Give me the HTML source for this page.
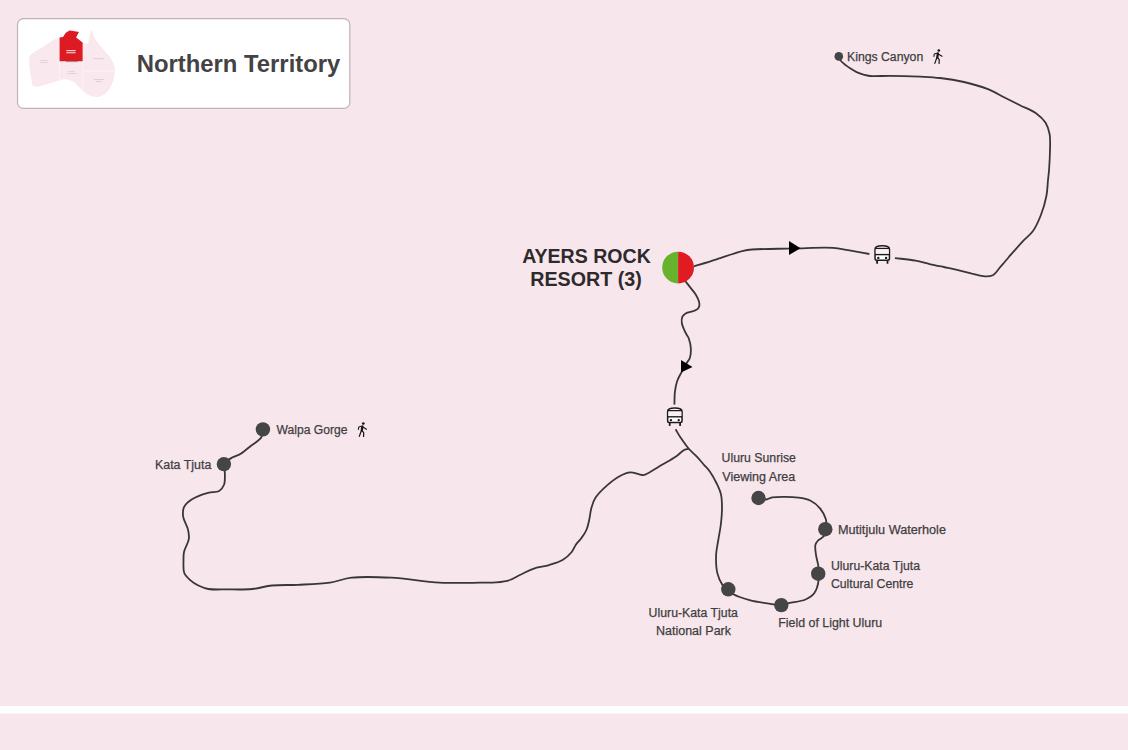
<!DOCTYPE html>
<html><head><meta charset="utf-8"><style>
html,body{margin:0;padding:0;}
body{width:1128px;height:750px;background:#f7e7ec;overflow:hidden;position:relative;}
svg{position:absolute;left:0;top:0;}
</style></head><body>
<svg width="1128" height="750" viewBox="0 0 1128 750">
<rect x="0" y="706" width="1128" height="7.5" fill="#ffffff"/>
<rect x="17.5" y="18.6" width="332.3" height="89.8" rx="6" ry="6" fill="#ffffff" stroke="#bdb5b9" stroke-width="1.2"/>
<defs><filter id="bl" x="-5%" y="-5%" width="110%" height="110%"><feGaussianBlur stdDeviation="0.35"/></filter></defs><g filter="url(#bl)">
  <path d="M59.3 37.5 C60.5 37.3 62.0 37.6 63.0 37.0 C64.2 36.2 64.7 33.9 65.8 32.8 C66.9 31.8 68.0 30.8 69.6 30.5 C72.0 30.0 78.1 30.4 78.9 31.9 C79.5 33.1 75.7 35.8 76.1 37.5 C76.5 39.4 80.8 41.7 82.6 42.6 C83.7 43.2 84.6 43.5 85.5 43.5 C86.4 43.5 87.4 43.6 88.0 43.0 C89.1 42.0 88.9 38.2 89.5 36.0 C90.1 33.9 90.8 30.0 91.5 30.0 C92.1 30.0 92.8 33.3 93.5 35.0 C94.3 36.7 94.8 38.2 96.0 40.0 C97.7 42.6 100.6 46.1 103.0 49.0 C105.3 51.8 108.1 54.0 110.0 57.0 C111.9 60.0 113.8 63.6 114.5 67.0 C115.1 70.3 114.8 73.7 114.2 77.0 C113.5 80.4 112.1 84.1 110.5 87.0 C109.0 89.7 107.3 92.3 105.0 94.0 C102.8 95.6 99.7 96.8 97.0 97.0 C94.4 97.2 91.5 96.3 89.2 95.3 C87.1 94.4 85.4 93.1 83.6 91.6 C81.6 90.0 79.7 87.7 78.0 86.0 C76.6 84.6 75.8 83.2 74.2 82.2 C72.2 80.9 69.3 79.7 66.8 79.4 C64.3 79.1 61.9 79.8 59.3 80.4 C56.3 81.0 53.1 82.3 50.0 83.2 C46.9 84.1 43.7 85.6 40.7 86.0 C38.1 86.4 34.8 87.2 33.2 86.0 C31.6 84.8 31.9 81.3 31.3 78.5 C30.6 75.2 29.7 71.0 29.5 67.3 C29.3 63.6 28.6 58.8 29.9 56.1 C30.9 53.9 33.0 53.0 35.1 51.5 C37.7 49.6 41.4 47.8 44.4 45.9 C47.3 44.1 50.1 41.8 52.8 40.3 C55.0 39.1 57.1 38.4 59.3 37.5 Z" fill="#f9e9ee"/>
  <path d="M59.6 61.3 V80 M59.6 61.3 H82.6 V91 M82.6 71 H114.5" stroke="#fdf6f8" stroke-width="0.6" fill="none"/>
  <path d="M59.6 37.5 L63.0 37.0 L65.8 32.8 L69.6 30.5 L78.9 31.9 L76.1 37.5 L82.6 42.6 L82.6 61.3 L59.6 61.3 Z" fill="#dc1a22"/>
  <rect x="66.3" y="50" width="9.3" height="1.2" fill="#f8d0d2"/>
  <rect x="66.3" y="52.2" width="9.3" height="1.1" fill="#f8d0d2"/>
  <rect x="65.8" y="61.2" width="12" height="0.9" fill="#9a7a80"/>
  <g fill="#dccbd0"><rect x="40.2" y="60.2" width="7.5" height="0.8"/><rect x="40.2" y="62" width="7.5" height="0.8"/>
  <rect x="68.5" y="71.2" width="6" height="0.8"/><rect x="67.2" y="73" width="9.4" height="0.8"/>
  <rect x="93.3" y="58.3" width="10.7" height="0.9"/>
  <rect x="94" y="79" width="10" height="0.9"/><rect x="96" y="81.2" width="6" height="0.9"/></g>
</g>
<text x="136.8" y="71.6" textLength="203.5" lengthAdjust="spacingAndGlyphs" font-family="'Liberation Sans', sans-serif" font-weight="bold" font-size="23.5" fill="#444244">Northern Territory</text>
<g fill="none" stroke="#3a3638" stroke-width="1.8" stroke-linecap="butt" stroke-linejoin="round"><path d="M694.0 266.3 C701.5 264.0 708.8 261.8 716.6 259.3 C725.1 256.6 736.7 252.3 743.2 250.8 C746.9 249.9 748.1 249.8 752.0 249.5 C759.9 248.8 778.7 248.8 787.5 248.6 C792.7 248.5 794.8 248.4 800.0 248.3 C808.4 248.1 824.4 247.3 833.2 247.9 C839.1 248.3 842.6 249.3 848.0 250.2 C854.5 251.3 862.3 252.7 869.4 254.0"/><path d="M894.9 258.1 C901.8 258.9 909.3 259.5 915.5 260.6 C920.7 261.6 924.9 263.0 929.6 264.1 C934.3 265.2 939.2 266.1 943.8 267.0 C948.0 267.9 951.7 268.6 956.0 269.6 C961.0 270.8 967.0 272.4 972.0 273.6 C976.5 274.6 981.0 276.2 984.8 276.3 C987.8 276.4 990.3 276.5 992.8 275.2 C995.8 273.6 998.0 269.5 1000.8 266.4 C1003.9 262.9 1007.0 259.2 1010.4 255.2 C1014.3 250.7 1019.2 245.1 1023.2 240.8 C1026.6 237.2 1030.0 235.1 1032.8 231.2 C1036.0 226.8 1038.6 220.9 1040.8 215.2 C1043.2 209.2 1045.2 202.2 1046.4 196.0 C1047.5 190.5 1047.5 184.8 1048.0 180.0 C1048.4 176.0 1048.8 173.3 1049.1 169.2 C1049.5 163.7 1049.9 156.1 1050.0 150.0 C1050.1 144.4 1050.5 138.8 1049.6 134.0 C1048.8 129.9 1047.7 126.2 1045.6 122.8 C1043.3 119.2 1039.9 116.0 1036.0 113.2 C1031.6 110.0 1025.3 107.9 1020.0 105.2 C1014.7 102.5 1009.3 99.9 1004.0 97.2 C998.7 94.5 994.0 91.6 988.0 89.2 C980.9 86.4 972.1 83.9 964.0 82.0 C956.1 80.2 947.6 78.9 940.0 78.0 C933.2 77.2 927.7 77.0 920.4 76.6 C911.4 76.2 898.7 75.8 890.0 75.8 C883.4 75.8 876.7 76.3 872.6 76.1 C870.3 76.0 869.0 75.8 867.2 75.5 C865.4 75.2 863.6 74.8 861.9 74.2 C860.1 73.6 858.3 72.9 856.6 72.1 C854.8 71.2 853.0 70.2 851.3 69.1 C849.5 68.0 847.7 66.8 846.0 65.4 C844.2 64.0 841.8 62.3 840.6 60.6 C839.6 59.3 839.4 57.8 838.8 56.4"/><path d="M685.2 281.0 C687.2 283.5 689.3 286.2 691.2 288.6 C692.9 290.8 694.7 292.8 696.0 295.0 C697.2 297.1 698.5 299.5 699.0 301.5 C699.4 303.1 699.6 304.7 699.3 306.0 C699.0 307.2 698.4 308.4 697.5 309.2 C696.5 310.1 695.2 310.4 693.6 311.0 C691.4 311.8 687.6 312.2 685.6 313.4 C684.2 314.3 683.1 315.2 682.4 316.6 C681.6 318.3 681.5 320.9 681.8 323.0 C682.1 325.2 683.1 327.4 684.0 329.4 C684.8 331.4 685.9 333.4 686.8 335.0 C687.5 336.3 688.2 337.0 688.8 338.5 C689.7 341.0 690.8 345.8 690.9 349.2 C691.0 352.2 690.7 355.3 689.9 357.7 C689.2 359.8 687.9 361.0 686.7 363.0 C685.1 365.7 682.9 369.5 681.3 372.6 C679.8 375.5 678.2 378.1 677.1 381.2 C676.0 384.5 675.4 388.1 674.9 391.8 C674.4 395.8 674.6 400.3 674.4 404.6"/><path d="M675.6 429.3 C677.3 432.1 678.7 434.8 680.7 437.7 C683.0 441.1 685.8 445.3 688.6 448.5 C691.1 451.5 694.0 453.7 696.6 456.4 C699.2 459.1 701.7 462.2 704.0 464.8 C706.1 467.2 707.9 468.8 709.8 471.5 C712.2 474.8 714.8 479.6 716.7 483.5 C718.4 487.1 720.0 490.3 720.9 494.1 C721.9 498.4 722.0 503.2 722.0 508.0 C722.0 513.1 721.5 518.7 720.9 524.0 C720.3 529.3 719.1 534.8 718.3 540.0 C717.5 545.0 716.3 549.6 716.1 554.8 C715.9 560.6 716.1 568.1 717.4 573.4 C718.5 577.7 720.2 581.8 722.3 584.6 C724.0 586.8 726.4 587.7 728.3 589.3 C730.1 590.9 731.1 592.8 733.5 594.3 C737.2 596.6 743.6 598.5 749.6 600.1 C756.9 602.1 768.8 603.7 774.5 604.5 C777.5 604.9 779.0 605.3 781.3 605.1 C783.7 604.9 785.7 603.9 788.7 603.2 C793.2 602.1 801.0 601.5 805.5 599.5 C809.1 597.9 812.1 596.2 814.2 593.3 C816.6 590.1 818.0 584.5 818.5 580.9 C818.9 578.2 818.2 576.0 818.2 573.7 C818.2 571.5 818.7 569.7 818.5 567.2 C818.2 563.7 816.5 558.7 816.0 554.8 C815.5 551.3 814.8 547.5 815.4 544.9 C815.8 543.1 816.8 541.9 818.0 540.5 C819.5 538.9 822.7 538.0 823.9 536.1 C825.1 534.2 824.9 531.5 825.3 529.2 C825.7 527.1 826.3 524.8 826.3 522.9 C826.3 521.4 826.3 520.6 825.8 519.0 C824.9 516.2 822.6 511.4 820.0 508.3 C817.4 505.2 813.8 502.3 810.2 500.5 C806.6 498.7 803.2 498.2 798.5 497.6 C791.5 496.7 777.8 496.5 772.2 497.4 C769.5 497.9 768.4 499.3 766.3 499.5 C763.9 499.7 761.1 498.5 758.5 498.0"/><path d="M688.6 449.0 C687.2 449.3 685.9 449.2 684.4 449.9 C682.0 451.0 679.2 454.2 676.0 456.4 C672.0 459.1 666.7 462.0 662.0 464.8 C657.3 467.6 651.5 471.5 648.0 473.2 C646.1 474.2 644.9 474.9 643.3 475.1 C641.8 475.2 640.5 474.6 638.7 474.2 C636.3 473.7 633.2 472.1 630.3 472.3 C627.0 472.5 623.5 474.1 620.0 476.0 C615.7 478.3 610.9 482.0 606.8 485.6 C602.7 489.2 598.2 493.6 595.6 497.6 C593.5 500.8 592.6 503.7 591.6 507.2 C590.4 511.1 590.1 516.0 589.2 520.0 C588.4 523.6 587.8 526.9 586.4 530.0 C585.1 533.1 583.0 535.9 581.1 538.5 C579.4 540.9 577.3 542.6 575.7 544.9 C574.1 547.2 573.4 550.0 571.5 552.3 C569.3 555.0 566.4 557.7 563.0 559.8 C559.1 562.2 553.9 563.6 549.1 565.1 C544.0 566.6 538.1 567.1 533.2 568.8 C528.6 570.4 524.5 572.8 520.4 574.7 C516.7 576.5 513.7 578.7 509.8 580.0 C505.6 581.4 500.8 581.9 496.0 582.4 C490.9 582.9 486.6 582.6 480.0 582.7 C469.6 582.8 453.6 583.3 439.5 582.6 C424.1 581.8 406.6 578.5 391.3 577.7 C377.4 577.0 362.8 576.4 351.6 577.7 C343.3 578.6 338.0 581.4 330.0 582.6 C320.4 584.0 307.8 584.3 297.7 584.8 C288.7 585.2 280.1 584.7 272.1 585.5 C265.0 586.2 259.4 588.3 252.3 589.0 C244.3 589.8 234.5 589.4 226.7 589.4 C220.1 589.4 213.4 589.9 208.3 589.0 C204.4 588.3 201.5 587.0 198.4 585.5 C195.4 584.0 192.3 582.0 189.9 579.8 C187.6 577.7 185.3 575.6 184.2 572.7 C183.0 569.5 183.5 564.9 183.5 561.3 C183.5 558.0 183.3 555.3 184.0 552.0 C184.8 548.0 188.2 543.2 188.8 539.2 C189.3 535.8 188.8 533.0 188.0 529.6 C187.1 525.6 183.8 520.8 183.2 516.8 C182.7 513.4 182.7 510.0 184.0 507.2 C185.4 504.1 188.6 501.4 192.0 499.2 C196.2 496.4 203.1 494.2 208.0 492.8 C212.0 491.7 216.5 492.5 219.2 490.9 C221.5 489.5 223.0 487.4 224.0 484.8 C225.3 481.5 224.9 475.8 224.8 472.0 C224.7 469.0 222.9 466.3 223.9 464.0 C225.1 461.3 229.7 459.0 232.7 457.3 C235.4 455.7 238.1 455.4 240.8 453.8 C244.1 451.8 247.6 448.4 251.0 445.7 C254.4 443.0 259.3 440.6 261.2 437.5 C262.7 435.0 262.3 432.1 262.9 429.4"/></g>
<path d="M789 241 L800.5 248.2 L789 255 Z" fill="#000"/>
<path d="M681 360 L692.5 367 L681 372.5 Z" fill="#000"/>
<g transform="translate(874.3,245)">
  <path d="M0.75 13.6 V4.2 Q0.75 0.8 7.95 0.8 Q15.15 0.8 15.15 4.2 V13.6 Q15.15 15.35 13.4 15.35 H2.5 Q0.75 15.35 0.75 13.6 Z" fill="#fff" stroke="#1e1a1c" stroke-width="1.5"/>
  <rect x="1.5" y="4.1" width="12.9" height="4.8" fill="#fbf1f4"/>
  <line x1="0.75" y1="3.4" x2="15.15" y2="3.4" stroke="#1e1a1c" stroke-width="1.3"/>
  <line x1="0.75" y1="9.6" x2="15.15" y2="9.6" stroke="#1e1a1c" stroke-width="1.4"/>
  <circle cx="4.0" cy="12.9" r="1.2" fill="#1e1a1c"/>
  <circle cx="11.8" cy="12.9" r="1.2" fill="#1e1a1c"/>
  <rect x="1.9" y="15" width="1.8" height="3.7" fill="#1e1a1c"/>
  <rect x="12.3" y="15" width="1.8" height="3.7" fill="#1e1a1c"/>
</g>
<g transform="translate(666.9,407.2)">
  <path d="M0.75 13.6 V4.2 Q0.75 0.8 7.95 0.8 Q15.15 0.8 15.15 4.2 V13.6 Q15.15 15.35 13.4 15.35 H2.5 Q0.75 15.35 0.75 13.6 Z" fill="#fff" stroke="#1e1a1c" stroke-width="1.5"/>
  <rect x="1.5" y="4.1" width="12.9" height="4.8" fill="#fbf1f4"/>
  <line x1="0.75" y1="3.4" x2="15.15" y2="3.4" stroke="#1e1a1c" stroke-width="1.3"/>
  <line x1="0.75" y1="9.6" x2="15.15" y2="9.6" stroke="#1e1a1c" stroke-width="1.4"/>
  <circle cx="4.0" cy="12.9" r="1.2" fill="#1e1a1c"/>
  <circle cx="11.8" cy="12.9" r="1.2" fill="#1e1a1c"/>
  <rect x="1.9" y="15" width="1.8" height="3.7" fill="#1e1a1c"/>
  <rect x="12.3" y="15" width="1.8" height="3.7" fill="#1e1a1c"/>
</g>
<g transform="translate(932.5,49)" fill="none" stroke="#1a1618" stroke-linecap="round" stroke-linejoin="round">
  <circle cx="6.3" cy="1.5" r="1.35" fill="#1a1618" stroke="none"/>
  <path d="M5.4 4.4 L4.8 8.4" stroke-width="2.3"/>
  <path d="M4.2 4.2 L1.8 5.0 L1.4 7.4" stroke-width="1.1"/>
  <path d="M6.2 5.2 L9.5 7.3" stroke-width="1.1"/>
  <path d="M4.3 8.8 L2.3 14.4" stroke-width="1.2"/>
  <path d="M5.3 9.0 L6.7 10.7 L6.6 14.4" stroke-width="1.2"/>
</g>
<g transform="translate(357,422)" fill="none" stroke="#1a1618" stroke-linecap="round" stroke-linejoin="round">
  <circle cx="6.3" cy="1.5" r="1.35" fill="#1a1618" stroke="none"/>
  <path d="M5.4 4.4 L4.8 8.4" stroke-width="2.3"/>
  <path d="M4.2 4.2 L1.8 5.0 L1.4 7.4" stroke-width="1.1"/>
  <path d="M6.2 5.2 L9.5 7.3" stroke-width="1.1"/>
  <path d="M4.3 8.8 L2.3 14.4" stroke-width="1.2"/>
  <path d="M5.3 9.0 L6.7 10.7 L6.6 14.4" stroke-width="1.2"/>
</g>
<circle cx="838.8" cy="56.4" r="4.3" fill="#454547"/>
<circle cx="262.9" cy="429.4" r="7.2" fill="#454547"/><circle cx="223.9" cy="464.1" r="7.2" fill="#454547"/><circle cx="728.3" cy="589.3" r="7.2" fill="#454547"/><circle cx="781.3" cy="605.1" r="7.2" fill="#454547"/><circle cx="818.2" cy="573.7" r="7.2" fill="#454547"/><circle cx="825.3" cy="529.2" r="7.2" fill="#454547"/><circle cx="758.5" cy="498" r="7.2" fill="#454547"/>
<path d="M678.1 251.7 A15.9 15.9 0 0 0 678.1 283.5 Z" fill="#67b32e"/>
<path d="M678.1 251.7 A15.9 15.9 0 0 1 678.1 283.5 Z" fill="#e01b22"/>
<g font-family="'Liberation Sans', sans-serif" font-size="12.5" fill="#3f3d3f" stroke="#3f3d3f" stroke-width="0.25"><text x="847.0" y="60.9" textLength="76.2" lengthAdjust="spacingAndGlyphs">Kings Canyon</text><text x="276.5" y="434.1" textLength="71.0" lengthAdjust="spacingAndGlyphs">Walpa Gorge</text><text x="155.0" y="468.7" textLength="56.3" lengthAdjust="spacingAndGlyphs">Kata Tjuta</text><text x="721.6" y="462.3" textLength="74.3" lengthAdjust="spacingAndGlyphs">Uluru Sunrise</text><text x="722.3" y="480.9" textLength="73.0" lengthAdjust="spacingAndGlyphs">Viewing Area</text><text x="837.9" y="534.1" textLength="108.1" lengthAdjust="spacingAndGlyphs">Mutitjulu Waterhole</text><text x="830.9" y="569.6" textLength="89.1" lengthAdjust="spacingAndGlyphs">Uluru-Kata Tjuta</text><text x="830.9" y="588" textLength="82.5" lengthAdjust="spacingAndGlyphs">Cultural Centre</text><text x="648.6" y="616.9" textLength="89.3" lengthAdjust="spacingAndGlyphs">Uluru-Kata Tjuta</text><text x="656.0" y="635.3" textLength="75.0" lengthAdjust="spacingAndGlyphs">National Park</text><text x="778.2" y="627.3" textLength="104.0" lengthAdjust="spacingAndGlyphs">Field of Light Uluru</text></g>
<g font-family="'Liberation Sans', sans-serif" font-weight="bold" font-size="19.5" fill="#2e2a2c">
<text x="522.2" y="263" textLength="128.6" lengthAdjust="spacingAndGlyphs">AYERS ROCK</text>
<text x="530.2" y="286.2" textLength="111.6" lengthAdjust="spacingAndGlyphs">RESORT (3)</text>
</g>
</svg>
</body></html>
